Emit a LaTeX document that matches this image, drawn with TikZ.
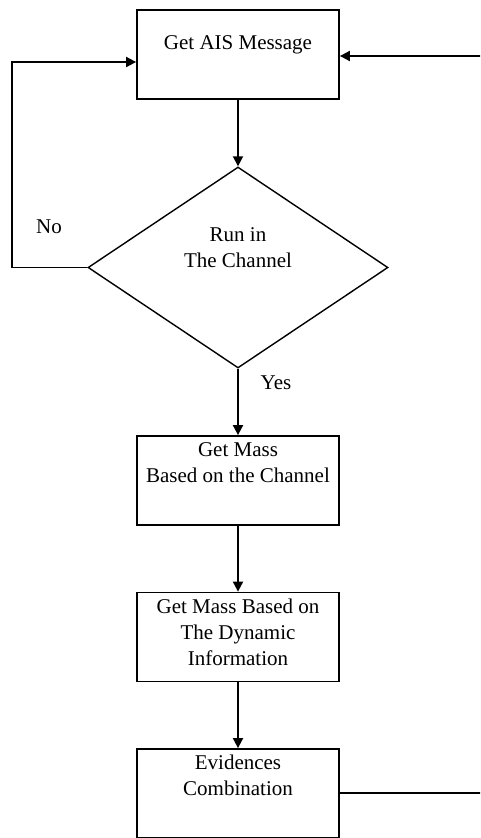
\documentclass[tikz,border=0pt]{standalone}
\usepackage{fontspec}
\setmainfont{Liberation Serif}
\usetikzlibrary{shapes.geometric,arrows.meta}
\begin{document}
\begin{tikzpicture}[x=1pt,y=-1pt,
  line width=1.8pt,
  box/.style={draw=black,line width=1.8pt,rectangle,minimum width=202pt,minimum height=89pt,inner sep=0pt},
  dec/.style={draw=black,line width=1.4pt,diamond,minimum width=300pt,minimum height=201pt,inner sep=0pt},
  txt/.style={font=\fontsize{21}{26}\selectfont,align=center,inner sep=0pt,anchor=center},
  arr/.style={-{Triangle[length=10pt,width=10pt]}}]
\useasboundingbox (0,0) rectangle (480,838);
\clip (0,0) rectangle (480,838);
\fill[white] (0,0) rectangle (480,838);
% nodes
\node[box] (b1) at (238,54.5) {};
\node[txt] (t1) at (238,44) {\strut Get AIS Message\strut};
\node[dec] (d1) at (238,267.5) {};
\node[txt] (td) at (238,249) {\strut Run in\\The Channel\strut};
\node[box] (b2) at (238,480.5) {};
\node[txt] (t2) at (238,464) {\strut Get Mass\\Based on the Channel\strut};
\node[box] (b3) at (238,637) {};
\node[txt] (t3) at (238,634) {\strut Get Mass Based on\\The Dynamic\\Information\strut};
\node[box] (b4) at (238,793.5) {};
\node[txt] (t4) at (238,777) {\strut Evidences\\Combination\strut};
\node[txt] (no) at (49,228) {\strut No\strut};
\node[txt] (yes) at (276,384) {\strut Yes\strut};
% loop coordinates
\coordinate (lc) at (12,62);
\coordinate (rc) at (483,56);
\coordinate (rb) at (483,793);
% connectors
\draw[arr] (b1.south) -- (d1.north);
\draw[arr] (d1.south) -- (b2.north);
\draw[arr] (b2.south) -- (b3.north);
\draw[arr] (b3.south) -- (b4.north);
\draw[arr] (d1.west) -| (lc) -- (b1.west |- lc);
\draw[arr] (b4.east |- rb) -- (rb) -- (rc) -- (b1.east |- rc);
\end{tikzpicture}
\end{document}
